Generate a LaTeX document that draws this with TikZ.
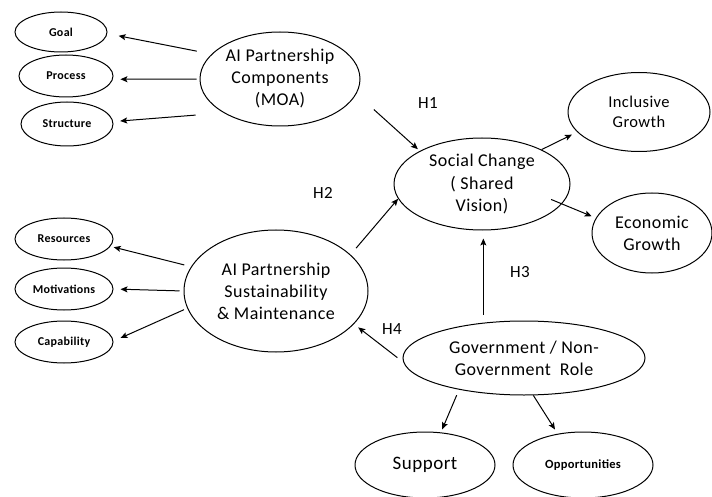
\documentclass[tikz,border=0pt]{standalone}
\usepackage{fontspec}
\setmainfont{Carlito}[LetterSpace=2.5]
\usetikzlibrary{shapes.geometric,arrows.meta}
\tikzset{
  oval/.style={draw, ellipse, line width=1pt, inner sep=0pt, align=center},
  big/.style={font=\fontsize{18}{22}\selectfont},
  mid/.style={font=\fontsize{16.5}{20}\selectfont},
  small/.style={font=\fontsize{12}{14}\selectfont\bfseries},
  arr/.style={line width=1pt, -{Stealth[length=7pt,width=6pt,inset=1.5pt]}},
  hlab/.style={font=\fontsize{17}{20}\selectfont, inner sep=0pt}
}
\begin{document}
\begin{tikzpicture}[x=1pt,y=-1pt]
\useasboundingbox (0,0) rectangle (712,497);
% left top cluster
\node[oval,small,minimum width=92pt,minimum height=40pt] (goal) at (61,32) {Goal};
\node[oval,small,minimum width=94pt,minimum height=42pt] (process) at (66,76) {Process};
\node[oval,small,minimum width=92pt,minimum height=44pt] (structure) at (67,124) {Structure};
\node[oval,big,minimum width=160pt,minimum height=94pt] (comp) at (280,79) {AI Partnership\\Components\\(MOA)};
% left bottom cluster
\node[oval,small,minimum width=98pt,minimum height=42pt] (res) at (64,239) {Resources};
\node[oval,small,minimum width=98pt,minimum height=42pt] (mot) at (64,289) {Motivations};
\node[oval,small,minimum width=98pt,minimum height=42pt] (cap) at (64,342) {Capability};
\node[oval,big,minimum width=184pt,minimum height=122pt] (sus) at (276,291) {AI Partnership\\Sustainability\\\& Maintenance};
% centre and right
\node[oval,big,minimum width=176pt,minimum height=92pt] (soc) at (482,184) {Social Change\\( Shared\\Vision)};
\node[oval,mid,minimum width=142pt,minimum height=79pt] (inc) at (639,112) {Inclusive\\Growth};
\node[oval,big,minimum width=120pt,minimum height=80pt] (eco) at (652,233) {Economic\\Growth};
% bottom
\node[oval,big,minimum width=242pt,minimum height=74pt] (gov) at (524,358) {Government / Non-\\Government\ \ Role};
\node[oval,font=\fontsize{19}{22}\selectfont,minimum width=140pt,minimum height=66pt] (sup) at (425,465) {Support};
\node[oval,font=\fontsize{12.5}{14}\selectfont\bfseries,minimum width=140pt,minimum height=66pt] (opp) at (583,465) {Opportunities};
% hypothesis labels
\node[hlab] (h1) at (428,103) {H1};
\node[hlab] (h2) at (323,193) {H2};
\node[hlab] (h3) at (520,272) {H3};
\node[hlab] (h4) at (392,329) {H4};
% connectors
\draw[arr, shorten <=15pt, shorten >=11.5pt] (comp.160.7) -- (goal.-2);
\draw[arr, shorten <=3pt, shorten >=7.5pt] (comp.180) -- (process.-4);
\draw[arr, shorten <=28pt, shorten >=7pt] (comp.211.4) -- (structure.3);
\draw[arr, shorten <=7pt, shorten >=3.3pt] (sus.164) -- (res.-9);
\draw[arr, shorten <=4pt, shorten >=7pt] (sus.180) -- (mot.0);
\draw[arr, shorten <=3.5pt, shorten >=7.7pt] (sus.191.3) -- (cap.1);
\draw[arr, shorten <=8.5pt] (sus.26.6) -- (soc.190.5);
\draw[arr, shorten <=23.4pt, shorten >=2.6pt] (comp.-11.4) -- (soc.152.9);
\draw[arr, shorten >=5.8pt] (soc.30.4) -- (inc.198.5);
\draw[arr, shorten <=-11.7pt, shorten >=4.5pt] (soc.-14.5) -- (eco.165.6);
\draw[arr, shorten <=8pt, shorten >=8pt] (gov.139.7) -- (gov.139.7 |- soc.south);
\draw[arr, shorten <=7.5pt, shorten >=5.4pt] (gov.182.1) -- (sus.-23.8);
\draw[arr, shorten <=6pt, shorten >=3.3pt] (gov.206.4) -- (sup.64);
\draw[arr, shorten >=5pt] (gov.-76.3) -- (opp.129.4);
\end{tikzpicture}
\end{document}
